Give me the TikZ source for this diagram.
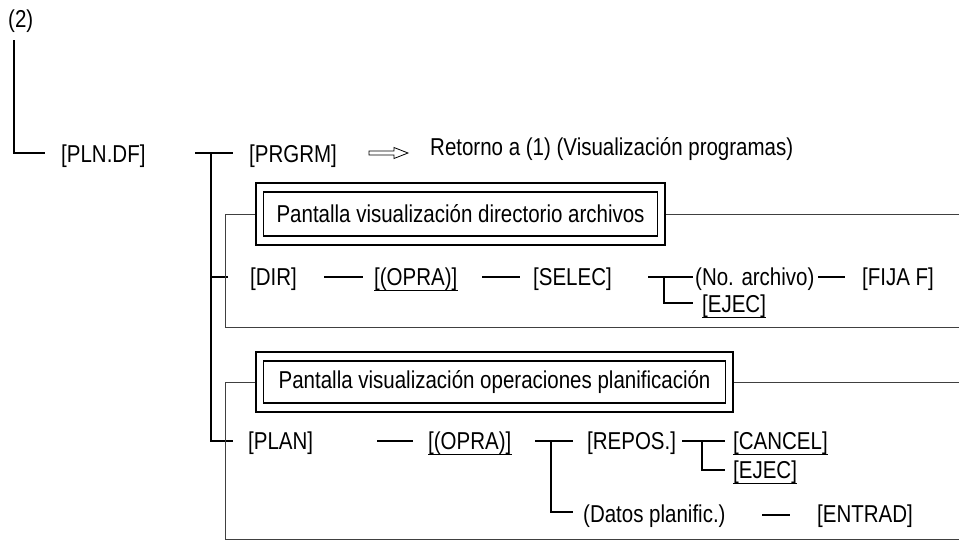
\documentclass[tikz,border=0pt]{standalone}
\usepackage{fontspec}
\setmainfont{Liberation Sans}[FakeStretch=0.84]
\usetikzlibrary{fit}
\begin{document}
\begin{tikzpicture}[x=1pt,y=-1pt,
  every node/.style={font=\fontsize{24.4}{28}\selectfont, inner sep=0pt, anchor=base west},
  tree/.style={line width=1.8pt},
  frame/.style={line width=1pt, draw=black!75},
  ul/.style={line width=0.9pt},
  screenin/.style={draw, line width=1.1pt, anchor=west, inner sep=0pt},
  screenout/.style={draw, line width=1.9pt, inner xsep=7pt, inner ysep=8.5pt},
]
\useasboundingbox (0,0) rectangle (959,541);

% ---- labels ----
\node (two)    at (8,27)    {(2)};
\node (plndf)  at (61,162)  {[PLN.DF]};
\node (prgrm)  at (249,162) {[PRGRM]};
\node (ret)    at (430,155) {Retorno a (1) (Visualización programas)};
\node (dir)    at (250,285) {[DIR]};
\node (opra1)  at (374,285) {[(OPRA)]};
\node (selec)  at (533,285) {[SELEC]};
\node (noarch) at (695,285) {(No. archivo)};
\node (fija)   at (862,285) {[FIJA F]};
\node (ejec1)  at (702,312) {[EJEC]};
\node (plan)   at (248,449) {[PLAN]};
\node (opra2)  at (428,449) {[(OPRA)]};
\node (repos)  at (587,449) {[REPOS.]};
\node (cancel) at (733,449) {[CANCEL]};
\node (ejec2)  at (733,478) {[EJEC]};
\node (datos)  at (583,522) {(Datos planific.)};
\node (entrad) at (817,522) {[ENTRAD]};

% underlined keys
\foreach \k in {opra1,ejec1,opra2,cancel,ejec2}
  \draw[ul] (\k.south west) -- (\k.south east);

% ---- screen boxes ----
\node[screenin, minimum width=394pt, minimum height=44pt] (scr1) at (263,214)
  {Pantalla visualización directorio archivos};
\node[screenout, fit=(scr1)] (scr1o) {};
\node[screenin, minimum width=462pt, minimum height=42pt] (scr2) at (263,382)
  {Pantalla visualización operaciones planificación};
\node[screenout, fit=(scr2)] (scr2o) {};

% ---- tree junctions ----
\coordinate (rootTop) at (14,40);
\coordinate (rootC)   at (14,153);
\coordinate (rootE)   at (45,153);
\coordinate (brA)     at (195,153);
\coordinate (brB)     at (233,153);
\coordinate (trTop)   at (211,153);
\coordinate (trBot)   at (211,441);
\coordinate (trEnd)   at (233,441);
\coordinate (trDir)   at (211,277);
\coordinate (trDirE)  at (228,277);

\draw[tree] (rootTop) -- (rootC) -- (rootE);
\draw[tree] (brA) -- (brB);
\draw[tree] (trTop) -- (trBot) -- (trEnd);
\draw[tree] (trDir) -- (trDirE);

% PRGRM -> hollow arrow
\draw[line width=0.8pt] (369,151) -- (394,151) -- (394,147.5) -- (408,153)
  -- (394,158.5) -- (394,155) -- (369,155) -- cycle;

% DIR row
\coordinate (d1a) at (324,277); \coordinate (d1b) at (363,277);
\coordinate (d2a) at (482,277); \coordinate (d2b) at (520,277);
\coordinate (s1a) at (648,277); \coordinate (s1b) at (693,277);
\coordinate (s1j) at (664,277); \coordinate (s1c) at (664,303);
\coordinate (s1d) at (693,303);
\coordinate (n1a) at (818,277); \coordinate (n1b) at (845,277);
\draw[tree] (d1a) -- (d1b);
\draw[tree] (d2a) -- (d2b);
\draw[tree] (s1a) -- (s1b);
\draw[tree] (s1j) -- (s1c) -- (s1d);
\draw[tree] (n1a) -- (n1b);

% PLAN row
\coordinate (p1a) at (377,441); \coordinate (p1b) at (413,441);
\coordinate (p2a) at (535,441); \coordinate (p2b) at (573,441);
\coordinate (p2j) at (551,441); \coordinate (p2c) at (551,512);
\coordinate (p2d) at (573,512);
\coordinate (r1a) at (682,441); \coordinate (r1b) at (725,441);
\coordinate (r1j) at (702,441); \coordinate (r1c) at (702,470);
\coordinate (r1d) at (725,470);
\coordinate (e1a) at (762,515); \coordinate (e1b) at (790,515);
\draw[tree] (p1a) -- (p1b);
\draw[tree] (p2a) -- (p2b);
\draw[tree] (p2j) -- (p2c) -- (p2d);
\draw[tree] (r1a) -- (r1b);
\draw[tree] (r1j) -- (r1c) -- (r1d);
\draw[tree] (e1a) -- (e1b);

% ---- screen frames ----
\coordinate (f1bl) at (225,327);
\coordinate (f1br) at (959,327);
\draw[frame] (scr1o.west) -- (scr1o.west -| f1bl) -- (f1bl) -- (f1br);
\draw[frame] (scr1o.east) -- (scr1o.east -| f1br);

\coordinate (f2bl) at (225,539);
\coordinate (f2br) at (959,539);
\draw[frame] (scr2o.west) -- (scr2o.west -| f2bl) -- (f2bl) -- (f2br);
\draw[frame] (scr2o.east) -- (scr2o.east -| f2br);
\end{tikzpicture}
\end{document}
